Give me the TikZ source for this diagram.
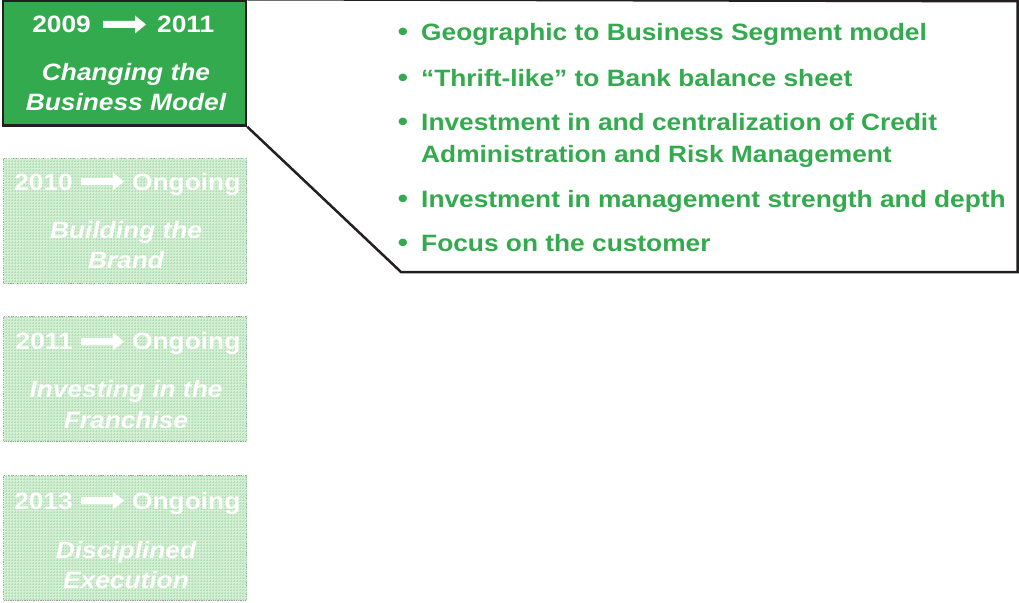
\documentclass[tikz,border=0pt]{standalone}
\usepackage{fontspec}
\setmainfont{Liberation Sans}
\usepackage{graphicx}
\usetikzlibrary{patterns}

\definecolor{leaf}{RGB}{51,170,77}
\definecolor{mint}{RGB}{212,239,212}
\definecolor{mintgrid}{RGB}{178,223,182}
\definecolor{ink}{RGB}{35,31,32}

% Arial-like text, slightly condensed vertically
\newcommand{\sq}[1]{\scalebox{1}[0.9]{#1}}

\tikzset{
  stage/.style={rectangle, minimum width=243pt, minimum height=125pt, inner sep=0pt},
  current/.style={stage, fill=leaf, draw=ink, line width=2.5pt},
  later/.style={stage, fill=mint, postaction={pattern=grid, pattern color=mintgrid},
                draw=black!38, line width=1.3pt, densely dotted},
  label/.style={text=white, inner sep=0pt},
  item/.style={text=leaf, inner sep=0pt, anchor=base west},
  dot/.style={text=leaf, inner sep=0pt, anchor=base, font=\fontsize{29}{30}\selectfont\bfseries},
  yeararrow/.pic={\fill[white] (0,-3.5) -- (32,-3.5) -- (32,-9) -- (43,0)
                  -- (32,9) -- (32,3.5) -- (0,3.5) -- cycle;}
}

\begin{document}
\begin{tikzpicture}[x=1pt, y=-1pt, font=\fontsize{26.3}{30}\selectfont\bfseries]
\useasboundingbox (0,0) rectangle (1019,602);

% ---- stage boxes ----
\node[current] (s1) at (124.5,63) {};
\node[later]   (s2) at (125,221) {};
\node[later]   (s3) at (125,379) {};
\node[later]   (s4) at (125,538) {};

% stage 1
\node[label, anchor=base east] (s1from) at (91,33) {\sq{2009}};
\pic at (103,24.5) {yeararrow};
\node[label, anchor=base west] (s1to) at (157,33) {\sq{2011}};
\node[label, anchor=base] (s1a) at (126,80) {\sq{\itshape Changing the}};
\node[label, anchor=base] (s1b) at (126,110) {\sq{\itshape Business Model}};

% stage 2
\node[label, anchor=base east] (s2from) at (73,190) {\sq{2010}};
\pic at (81,181.5) {yeararrow};
\node[label, anchor=base west] (s2to) at (132,190) {\sq{Ongoing}};
\node[label, anchor=base] (s2a) at (126,238) {\sq{\itshape Building the}};
\node[label, anchor=base] (s2b) at (126,268) {\sq{\itshape Brand}};

% stage 3
\node[label, anchor=base east] (s3from) at (73,349) {\sq{2011}};
\pic at (81,341.5) {yeararrow};
\node[label, anchor=base west] (s3to) at (132,349) {\sq{Ongoing}};
\node[label, anchor=base] (s3a) at (126,397) {\sq{\itshape Investing in the}};
\node[label, anchor=base] (s3b) at (126,428) {\sq{\itshape Franchise}};

% stage 4
\node[label, anchor=base east] (s4from) at (73,509) {\sq{2013}};
\pic at (81,500.5) {yeararrow};
\node[label, anchor=base west] (s4to) at (132,509) {\sq{Ongoing}};
\node[label, anchor=base] (s4a) at (126,558) {\sq{\itshape Disciplined}};
\node[label, anchor=base] (s4b) at (126,588) {\sq{\itshape Execution}};

% ---- callout from the current stage ----
\coordinate (ctr) at (1017.5,1.25);
\coordinate (cbr) at (1017.5,272);
\coordinate (cbl) at (401,272);
\draw[ink, line width=2.5pt, line join=miter]
  (s1.north east) -- (ctr) -- (cbr) -- (cbl) -- (s1.south east);

% ---- bullet points ----
\node[dot] (d1) at (403,41)  {\sq{•}};
\node[item] (b1) at (421,41)  {\sq{Geographic to Business Segment model}};
\node[dot] (d2) at (403,86)  {\sq{•}};
\node[item] (b2) at (421,86)  {\sq{“Thrift-like” to Bank balance sheet}};
\node[dot] (d3) at (403,130) {\sq{•}};
\node[item] (b3) at (421,130) {\sq{Investment in and centralization of Credit}};
\node[item] (b3b) at (421,162) {\sq{Administration and Risk Management}};
\node[dot] (d4) at (403,207) {\sq{•}};
\node[item] (b4) at (421,207) {\sq{Investment in management strength and depth}};
\node[dot] (d5) at (403,251) {\sq{•}};
\node[item] (b5) at (421,251) {\sq{Focus on the customer}};
\end{tikzpicture}
\end{document}
